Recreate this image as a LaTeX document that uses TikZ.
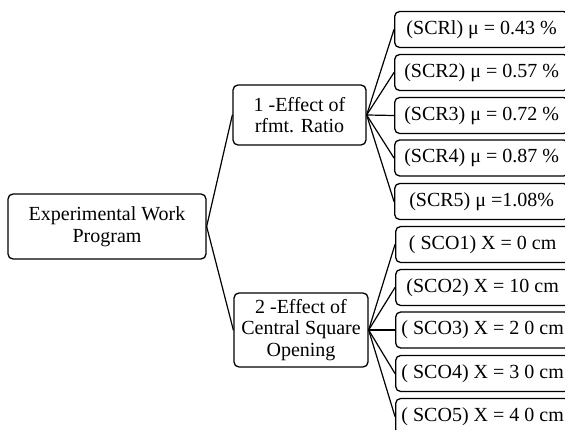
\documentclass[tikz,border=0pt]{standalone}
\usepackage{fontspec}
\setmainfont{Liberation Serif}
\tikzset{
  box/.style={draw, rounded corners=5pt, line width=1.3pt, align=center, inner sep=0pt,
    font=\fontsize{20}{21.5}\selectfont},
  leaf/.style={box, anchor=west, minimum width=174pt, minimum height=36pt},
  link/.style={line width=1.2pt}
}
\begin{document}
\begin{tikzpicture}[x=1pt, y=-1pt, line join=round, line cap=round]
			\useasboundingbox (0,0) rectangle (565,430);
			\node[box, minimum width=198pt, minimum height=65pt] (prog) at (107,226.5) {Experimental Work\\Program};
			\node[box, minimum width=133pt, minimum height=60pt] (rfmt) at (299.5,115) {1 -Effect of\\rfmt. Ratio};
			\node[box, minimum width=134pt, minimum height=74pt] (open) at (301,330) {2 -Effect of\\Central Square\\Opening};
			\node[leaf] (scr1) at (394,29.5) {(SCRl) μ = 0.43 \%};
			\node[leaf] (scr2) at (394,72.5) {(SCR2) μ = 0.57 \%};
			\node[leaf] (scr3) at (394,115.5) {(SCR3) μ = 0.72 \%};
			\node[leaf] (scr4) at (394,158) {(SCR4) μ = 0.87 \%};
			\node[leaf] (scr5) at (394,201.5) {(SCR5) μ =1.08\%};
			\node[leaf] (sco1) at (395,244.5) {( SCO1) X = 0 cm};
			\node[leaf] (sco2) at (395,287.5) {(SCO2) X = 10 cm};
			\node[leaf] (sco3) at (395,330) {( SCO3) X = 2 0 cm};
			\node[leaf] (sco4) at (395,373.5) {( SCO4) X = 3 0 cm};
			\node[leaf] (sco5) at (395,416.5) {( SCO5) X = 4 0 cm};
			\draw[link] (prog.east) -- (rfmt.west);
			\draw[link] (prog.east) -- (open.west);
			\foreach \l in {scr1,scr2,scr3,scr4,scr5}
				\draw[link] (rfmt.east) -- (\l.west);
			\foreach \l in {sco1,sco2,sco3,sco4,sco5}
				\draw[link] (open.east) -- (\l.west);
\end{tikzpicture}
\end{document}
